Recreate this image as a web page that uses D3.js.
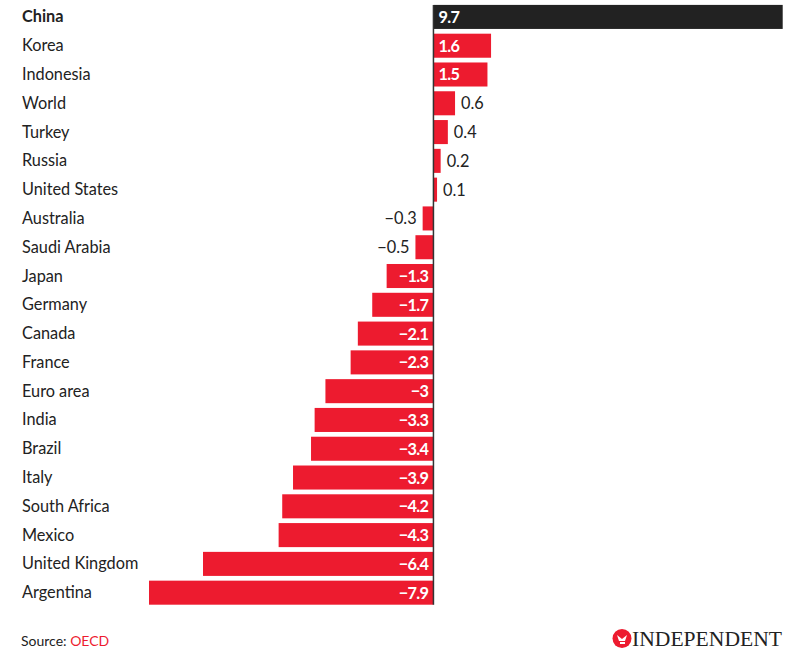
<!DOCTYPE html>
<html><head><meta charset="utf-8">
<script src="https://cdn.jsdelivr.net/npm/d3@7"></script>
<style>body{margin:0;background:#fff}svg{display:block;font-family:Lato,sans-serif}</style>
</head><body><svg id="c" width="803" height="667"></svg>
<script>
const countries = ["China","Korea","Indonesia","World","Turkey","Russia","United States","Australia","Saudi Arabia","Japan","Germany","Canada","France","Euro area","India","Brazil","Italy","South Africa","Mexico","United Kingdom","Argentina"];
const values = [9.7,1.6,1.5,0.6,0.4,0.2,0.1,-0.3,-0.5,-1.3,-1.7,-2.1,-2.3,-3,-3.3,-3.4,-3.9,-4.2,-4.3,-6.4,-7.9];
const highlight = ["China"];
const source = "OECD";

const svg = d3.select("#c");
const x = d3.scaleLinear().domain([-7.9, 9.7]).range([149, 782.7]);
const y = d3.scaleBand().domain(countries).range([2.6, 607]).paddingInner(0.165).paddingOuter(0.08);
const RED = "#ED1B2F", DARK = "#222";
const fmt = v => (v < 0 ? "\u2212" : "") + Math.abs(v);
const data = countries.map((c,i)=>({c, v: values[i]}));

svg.selectAll("rect.bar").data(data).join("rect")
  .attr("class","bar")
  .attr("x", d => x(Math.min(0,d.v)))
  .attr("width", d => Math.abs(x(d.v)-x(0)))
  .attr("y", d => y(d.c))
  .attr("height", y.bandwidth())
  .attr("fill", d => highlight.includes(d.c) ? DARK : RED);

svg.selectAll("text.cty").data(data).join("text")
  .attr("class","cty")
  .attr("x", 22)
  .attr("y", d => y(d.c) + y.bandwidth()/2 + 5.5)
  .attr("font-size", 16.3)
  .attr("font-weight", d => highlight.includes(d.c) ? 700 : 400)
  .attr("fill", DARK)
  .text(d => d.c);

const inside = d => Math.abs(d.v) >= 1;
svg.selectAll("text.val").data(data).join("text")
  .attr("class","val")
  .attr("x", d => {
    if (d.v >= 0) return inside(d) ? x(0)+5 : x(d.v)+6;
    return inside(d) ? x(0)-5 : x(d.v)-6;
  })
  .attr("text-anchor", d => d.v >= 0 ? "start" : "end")
  .attr("y", d => y(d.c) + y.bandwidth()/2 + 6)
  .attr("font-size", 16.3)
  .attr("font-weight", d => inside(d) ? 700 : 400)
  .attr("fill", d => inside(d) ? "#fff" : DARK)
  .attr("letter-spacing", d => inside(d) ? -0.6 : 0)
  .text(d => fmt(d.v));

svg.append("line")
  .attr("x1", x(0)).attr("x2", x(0))
  .attr("y1", y(countries[0])).attr("y2", y(countries[countries.length-1]) + y.bandwidth())
  .attr("stroke", "#333").attr("stroke-width", 1.5);

const st = svg.append("text").attr("x", 21).attr("y", 646).attr("font-size", 14).attr("fill", DARK);
st.append("tspan").text("Source: ");
st.append("tspan").attr("fill", RED).text(source);

const logo = svg.append("g");
logo.append("circle").attr("cx", 622).attr("cy", 638.5).attr("r", 9.5).attr("fill", RED);
logo.append("path").attr("d","M617,635 l5,4 l5,-4 l-2,6 l-6,0 z M620,642 h5 v2 h-5 z").attr("fill","#fff");
logo.append("text").attr("x", 632).attr("y", 645.5).attr("font-family","'Liberation Serif',serif")
  .attr("font-size", 20).attr("fill", DARK).attr("textLength", 150).attr("lengthAdjust","spacingAndGlyphs").text("INDEPENDENT");
</script></body></html>
